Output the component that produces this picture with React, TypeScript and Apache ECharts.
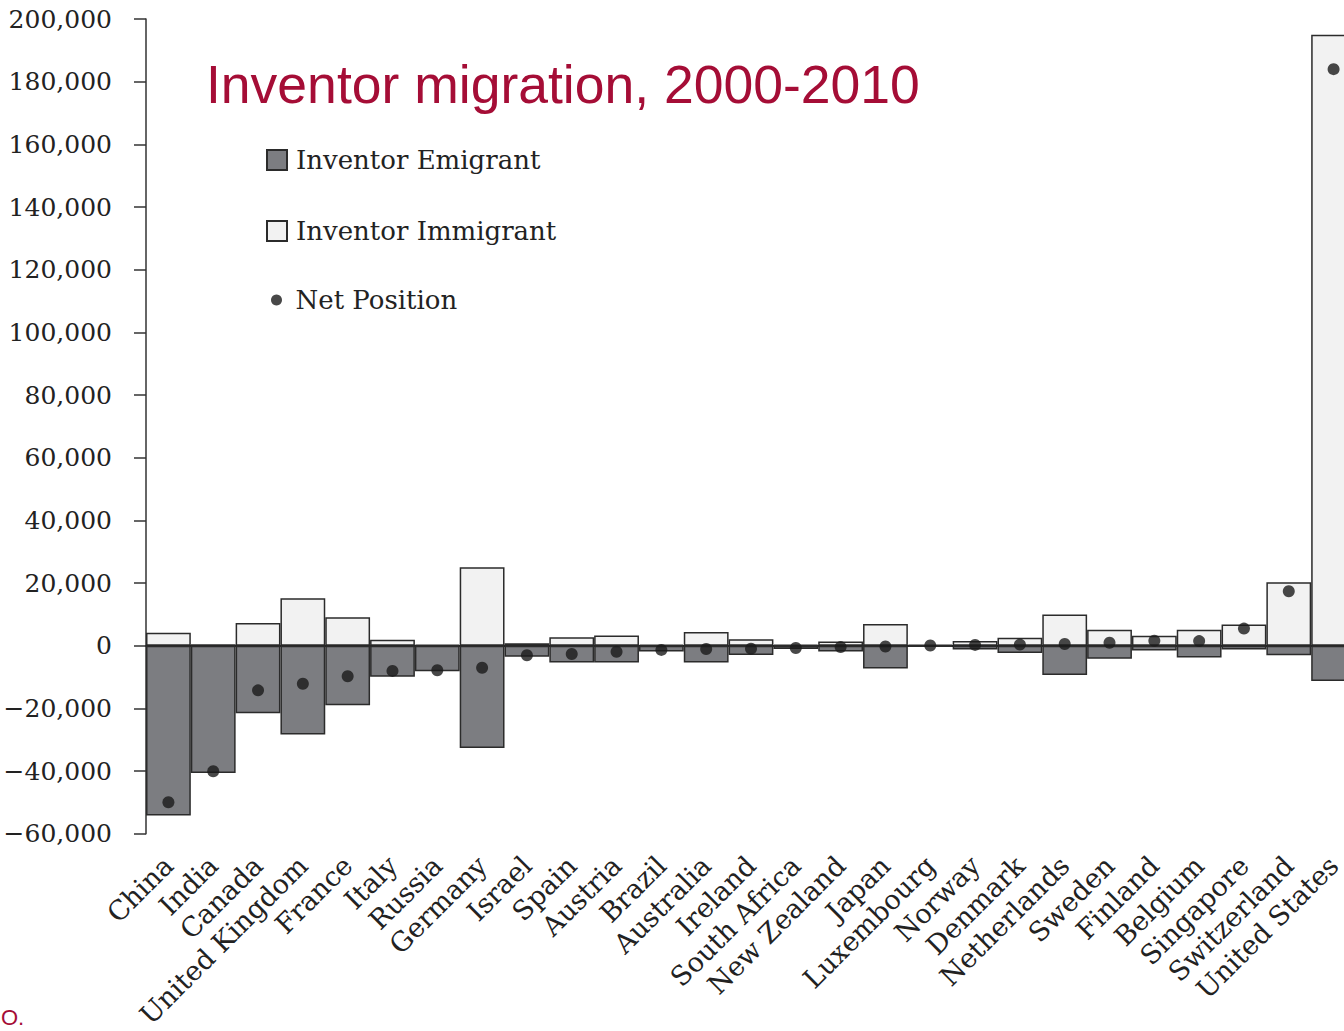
import React, { useEffect, useRef } from "react";
import * as echarts from "echarts";

const categories = [
  "China", "India", "Canada", "United Kingdom", "France", "Italy", "Russia", "Germany",
  "Israel", "Spain", "Austria", "Brazil", "Australia", "Ireland", "South Africa",
  "New Zealand", "Japan", "Luxembourg", "Norway", "Denmark", "Netherlands", "Sweden",
  "Finland", "Belgium", "Singapore", "Switzerland", "United States",
];

const immigrant = [
  4200, 500, 7300, 15200, 9100, 1900, 300, 25100, 800, 2700, 3300, 400, 4400, 2100, 300,
  1400, 7000, 300, 1500, 2600, 10000, 5100, 3200, 5100, 6800, 20300, 195000,
];

const emigrant = [
  -54100, -40600, -21500, -28300, -19000, -9900, -8100, -32600, -3500, -5300, -5300, -1800,
  -5300, -2900, -1000, -1800, -7200, -300, -1200, -2300, -9300, -4100, -1500, -3700, -1200,
  -3000, -11200,
];

const netPosition = [
  -49900, -40000, -14200, -12100, -9700, -8000, -7800, -7000, -3000, -2600, -1900, -1300,
  -1000, -900, -700, -400, -200, 100, 300, 400, 600, 1000, 1600, 1500, 5500, 17400, 184000,
];

const yTicks = { min: -60000, max: 200000, interval: 20000 };

const SERIF = "DejaVu Serif";
const CRIMSON = "#a50d36";

function fmt(v: number): string {
  const s = Math.abs(v).toString().replace(/\B(?=(\d{3})+(?!\d))/g, ",");
  return v < 0 ? "\u2212" + s : s;
}

export default function App() {
  const ref = useRef<HTMLDivElement>(null);
  useEffect(() => {
    if (!ref.current) return;
    const chart = echarts.init(ref.current, null, { renderer: "svg" });
    const border = { borderColor: "#2b2b2b", borderWidth: 1.5 };
    chart.setOption({
      animation: false,
      backgroundColor: "#ffffff",
      title: {
        text: "Inventor migration, 2000-2010",
        left: 201,
        top: 52,
        textStyle: {
          fontFamily: "Liberation Sans",
          fontSize: 53.5,
          fontWeight: "normal",
          color: CRIMSON,
        },
      },
      legend: [
        {
          orient: "vertical",
          left: 266,
          top: 147,
          padding: 0,
          itemWidth: 20,
          itemHeight: 20,
          itemGap: 45,
          icon: "rect",
          data: ["Inventor Emigrant", "Inventor Immigrant"],
          textStyle: {
            fontFamily: SERIF,
            fontSize: 26,
            color: "#222",
            padding: [0, 0, 0, 4],
          },
        },
        {
          orient: "vertical",
          left: 271,
          top: 287,
          padding: 0,
          itemWidth: 20,
          itemHeight: 11,
          data: ["Net Position"],
          textStyle: {
            fontFamily: SERIF,
            fontSize: 26,
            color: "#222",
            padding: [0, 0, 0, 4],
          },
        },
      ],
      grid: { left: 146, top: 19, right: 0, bottom: 195, containLabel: false },
      xAxis: [
        {
          type: "category",
          data: categories,
          position: "bottom",
          axisLine: { show: false, onZero: false },
          axisTick: { show: false },
          axisLabel: {
            rotate: 45,
            interval: 0,
            margin: 27,
            fontFamily: SERIF,
            fontSize: 27,
            color: "#222",
          },
        },
        {
          type: "category",
          data: categories,
          position: "bottom",
          axisLine: { show: true, onZero: true, lineStyle: { color: "#1a1a1a", width: 2 } },
          axisTick: { show: false },
          axisLabel: { show: false },
        },
      ],
      yAxis: {
        type: "value",
        min: yTicks.min,
        max: yTicks.max,
        interval: yTicks.interval,
        axisLine: { show: true, lineStyle: { color: "#333", width: 1.5 } },
        axisTick: { show: true, length: 12, lineStyle: { color: "#333", width: 1.5 } },
        splitLine: { show: false },
        axisLabel: {
          margin: 34,
          fontFamily: SERIF,
          fontSize: 25,
          color: "#222",
          formatter: (v: number) => fmt(v),
        },
      },
      series: [
        {
          name: "Inventor Emigrant",
          type: "bar",
          data: emigrant,
          barGap: "-100%",
          barCategoryGap: 0,
          itemStyle: { color: "#7c7d81", ...border },
        },
        {
          name: "Inventor Immigrant",
          type: "bar",
          data: immigrant,
          barGap: "-100%",
          barCategoryGap: 0,
          itemStyle: { color: "#f2f2f2", ...border },
        },
        {
          name: "Net Position",
          type: "scatter",
          data: netPosition,
          symbol: "circle",
          symbolSize: 12,
          z: 5,
          itemStyle: { color: "#1a1a1a" },
        },
      ],
      graphic: [
        {
          type: "text",
          left: 1,
          top: 1006,
          style: {
            text: "O.",
            fontFamily: "Liberation Sans",
            fontSize: 22,
            fill: CRIMSON,
          },
        },
      ],
    });
    return () => chart.dispose();
  }, []);
  return (
    <div
      style={{ position: "absolute", left: 0, top: 0, width: 1344, height: 1031, overflow: "hidden" }}
    >
      <div ref={ref} style={{ width: 1356, height: 1031 }} />
    </div>
  );
}
